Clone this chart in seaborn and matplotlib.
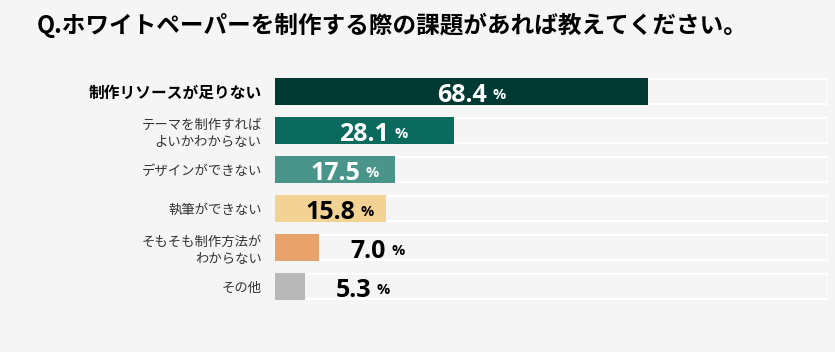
import matplotlib
matplotlib.use('Agg')
import matplotlib.pyplot as plt
import seaborn as sns
import pandas as pd

# data
categories = ['制作リソースが足りない',
              'テーマを制作すれば\nよいかわからない',
              'デザインができない',
              '執筆ができない',
              'そもそも制作方法が\nわからない',
              'その他']
value_labels = [68.4, 28.1, 17.5, 15.8, 7.0, 5.3]
# bar lengths as drawn in the picture (track = 100)
bar_lengths = [67.5, 32.3, 21.7, 20.0, 8.0, 5.4]
bar_colors = ['#003a33', '#0b6a5e', '#4a9589', '#f3d393', '#e8a26b', '#b9b9b9']
label_colors = ['white', 'white', 'white', 'black', 'black', 'black']
title = 'Q.ホワイトペーパーを制作する際の課題があれば教えてください。'

bg = '#f5f5f5'
sns.set_style('white')
plt.rcParams['font.family'] = ['Noto Sans CJK JP', 'DejaVu Sans']

df = pd.DataFrame({'cat': categories, 'val': bar_lengths, 'full': [100] * len(bar_lengths)})

fig = plt.figure(figsize=(8.35, 3.52), dpi=100, facecolor=bg)
ax = fig.add_axes([275 / 835, 1 - 306 / 352, 553 / 835, 234 / 352])
ax.set_facecolor(bg)

# background tracks
sns.barplot(data=df, y='cat', x='full', orient='h', color=bg, saturation=1,
            width=0.66, edgecolor='white', linewidth=1.5, ax=ax)
# value bars
sns.barplot(data=df, y='cat', x='val', orient='h', hue='cat', palette=bar_colors,
            saturation=1, legend=False, width=0.69, edgecolor='none', ax=ax)

ax.set_xlim(0, 100)
ax.set_ylim(len(categories) - 0.5, -0.5)
ax.set_xlabel('')
ax.set_ylabel('')
ax.set_xticks([])
for s in ax.spines.values():
    s.set_visible(False)

ax.tick_params(axis='y', length=0, pad=9.5)
ax.set_yticks(range(len(categories)))
ax.set_yticklabels(categories, fontsize=9.6, color='#333333', linespacing=1.25)
first = ax.get_yticklabels()[0]
first.set_fontsize(11.3)
first.set_fontweight('bold')
first.set_color('black')

# value labels
for i, (lab, L) in enumerate(zip(value_labels, bar_lengths)):
    if lab >= 15:
        anchor, off = L / 2, 0
    else:
        anchor, off = L, 35
    num = ax.annotate(f'{lab:.1f}', xy=(anchor, i), xytext=(off, -7.6),
                      textcoords='offset points', ha='center', va='baseline',
                      fontsize=18, fontweight='bold', color=label_colors[i],
                      family='Open Sans')
    ax.annotate('%', xy=(1, 0), xycoords=num, xytext=(4, 6.8),
                textcoords='offset points', ha='left', va='baseline',
                fontsize=10.5, fontweight='bold', color=label_colors[i],
                family='Open Sans')

fig.text(37 / 835, 1 - 25 / 352, title, fontsize=17, fontweight='bold',
         ha='left', va='center', color='black')

fig.savefig('out.png', dpi=100, facecolor=bg)
